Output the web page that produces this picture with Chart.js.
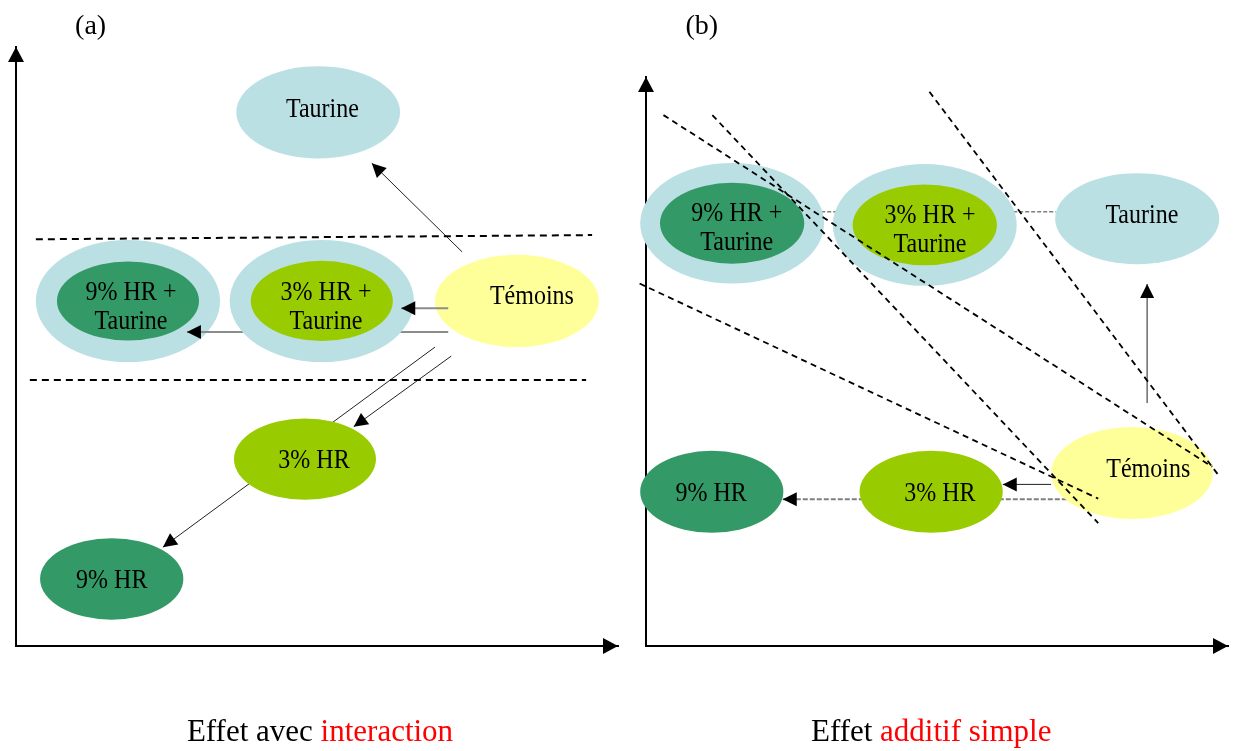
<!DOCTYPE html>
<html>
<head>
<meta charset="utf-8">
<script src="https://cdn.jsdelivr.net/npm/chart.js@4.4.1/dist/chart.umd.min.js"></script>
<style>
  body { margin: 0; background: #fff; }
  #wrap { position: relative; width: 1234px; height: 751px; }
  .panel { position: absolute; top: 0; height: 751px; }
  #panelA { left: 0; width: 624px; }
  #panelB { left: 624px; width: 610px; }
</style>
</head>
<body>
<div id="wrap">
  <div class="panel" id="panelA"><canvas id="chartA"></canvas></div>
  <div class="panel" id="panelB"><canvas id="chartB"></canvas></div>
</div>
<script>
// both panels use a 0..100 unit scale on each axis

// ---- (a) effet avec interaction ----
var aNodeLabels = ['Taurine', '9% HR +\nTaurine', '3% HR +\nTaurine', 'Témoins', '3% HR', '9% HR'];
var aNodeKind   = ['taurine', 'hr9', 'hr3', 'temoin', 'hr3', 'hr9'];
var aNodeX  = [50.2, 18.6, 50.8, 83.2, 48.0, 15.9];
var aNodeY  = [89.1, 57.6, 57.6, 57.6, 31.2, 11.2];
var aNodeRx = [13.6, 11.8, 11.8, 13.6, 11.8, 11.9];
var aNodeRy = [7.7, 6.6, 6.7, 7.7, 6.8, 6.8];
var aRingRx = [0, 15.3, 15.3, 0, 0, 0];
var aRingRy = [0, 10.2, 10.2, 0, 0, 0];
var aTextX  = [50.9, 19.1, 51.5, 85.7, 49.5, 15.9];
var aTextY  = [89.5, 56.6, 56.6, 58.3, 30.9, 10.9];

var aArrowX0 = [74.1, 71.8, 71.8, 72.3, 69.6];
var aArrowY0 = [65.8, 56.4, 52.4, 48.4, 49.9];
var aArrowX1 = [59.1, 64.0, 28.4, 56.1, 24.4];
var aArrowY1 = [80.6, 56.4, 52.4, 36.6, 16.5];
var aArrowKind = ['thin', 'grey', 'grey', 'thin', 'thin'];

var aDashX0 = [3.3, 2.3];
var aDashY0 = [67.9, 44.4];
var aDashX1 = [95.7, 94.7];
var aDashY1 = [68.6, 44.4];

var aTag = '(a)';
var aCaption = ['Effet avec ', 'interaction'];

// ---- (b) effet additif simple ----
var bNodeLabels = ['9% HR +\nTaurine', '3% HR +\nTaurine', 'Taurine', 'Témoins', '3% HR', '9% HR'];
var bNodeKind   = ['hr9', 'hr3', 'taurine', 'temoin', 'hr3', 'hr9'];
var bNodeX  = [14.8, 47.9, 84.4, 83.5, 49.0, 11.3];
var bNodeY  = [74.3, 74.0, 75.1, 30.4, 27.1, 27.1];
var bNodeRx = [12.4, 12.4, 14.1, 13.9, 12.3, 12.3];
var bNodeRy = [7.1, 7.1, 8.0, 8.1, 7.2, 7.2];
var bRingRx = [15.8, 15.8, 0, 0, 0, 0];
var bRingRy = [10.6, 10.7, 0, 0, 0, 0];
var bTextX  = [15.6, 48.8, 85.2, 86.3, 50.5, 11.2];
var bTextY  = [73.3, 73.0, 75.6, 30.9, 26.7, 26.7];

var bArrowX0 = [30.1, 86.1, 69.6, 72.3];
var bArrowY0 = [76.3, 42.7, 28.4, 25.8];
var bArrowX1 = [70.4, 86.1, 61.3, 23.5];
var bArrowY1 = [76.3, 63.6, 28.4, 25.8];
var bArrowKind = ['link', 'thin', 'thin', 'greyDash'];

var bDashX0 = [3.0, 11.4, 48.7, -1.1];
var bDashY0 = [93.3, 93.3, 97.4, 63.7];
var bDashX1 = [97.3, 77.7, 98.6, 77.7];
var bDashY1 = [31.5, 21.6, 29.7, 25.9];

var bTag = '(b)';
var bCaption = ['Effet ', 'additif simple'];

// ---- styles ----
var FONT = '"Liberation Serif", "Times New Roman", serif';
var nodeColors = { taurine: '#bbe0e3', hr9: '#339966', hr3: '#99cc00', temoin: '#ffff99' };
var arrowStyles = {
  thin:     { color: '#222222', width: 1,   dash: [],     head: true,  layer: 4 },
  grey:     { color: '#8c8c8c', width: 2,   dash: [],     head: true,  layer: 4 },
  greyDash: { color: '#7f7f7f', width: 2,   dash: [5, 2], head: true,  layer: 1 },
  link:     { color: '#7f7f7f', width: 1.5, dash: [4, 2], head: false, layer: 1 }
};

function drawHead(ctx, x0, y0, x1, y1, len, half) {
  var a = Math.atan2(y1 - y0, x1 - x0);
  ctx.save();
  ctx.translate(x1, y1);
  ctx.rotate(a);
  ctx.beginPath();
  ctx.moveTo(0, 0);
  ctx.lineTo(-len, -half);
  ctx.lineTo(-len, half);
  ctx.closePath();
  ctx.fillStyle = '#000';
  ctx.fill();
  ctx.restore();
}

var diagramPlugin = {
  id: 'diagram',
  afterDatasetDraw: function (chart, args) {
    var ds = chart.data.datasets[args.index];
    var ctx = chart.ctx, xs = chart.scales.x, ys = chart.scales.y;
    if (ds.node) {
      var n = ds.node;
      var cx = xs.getPixelForValue(n.x), cy = ys.getPixelForValue(n.y);
      var w = function (v) { return Math.abs(xs.getPixelForValue(n.x + v) - cx); };
      var h = function (v) { return Math.abs(ys.getPixelForValue(n.y + v) - cy); };
      ctx.save();
      if (n.ringRx) {
        ctx.fillStyle = nodeColors.taurine;
        ctx.beginPath();
        ctx.ellipse(cx, cy, w(n.ringRx), h(n.ringRy), 0, 0, Math.PI * 2);
        ctx.fill();
      }
      ctx.fillStyle = nodeColors[n.kind];
      ctx.beginPath();
      ctx.ellipse(cx, cy, w(n.rx), h(n.ry), 0, 0, Math.PI * 2);
      ctx.fill();
      // the labels in the source are a little taller than they are wide
      ctx.fillStyle = '#000';
      ctx.font = '24px ' + FONT;
      ctx.textAlign = 'center';
      ctx.textBaseline = 'middle';
      var lines = n.label.split('\n');
      var tx = xs.getPixelForValue(n.tx), ty = ys.getPixelForValue(n.ty);
      for (var i = 0; i < lines.length; i++) {
        var ly = ty + (i - (lines.length - 1) / 2) * 29;
        ctx.save();
        ctx.translate(tx, ly);
        ctx.scale(1, 1.12);
        ctx.fillText(lines[i], 0, 0);
        ctx.restore();
      }
      ctx.restore();
    }
    if (ds.head) {
      var p = args.meta.data;
      drawHead(ctx, p[0].x, p[0].y, p[1].x, p[1].y, 14, 7);
    }
  },
  afterDraw: function (chart, args, opts) {
    var ctx = chart.ctx, xs = chart.scales.x, ys = chart.scales.y;
    var area = chart.chartArea;
    // arrow tips of the axes
    drawHead(ctx, area.left, area.top + 20, area.left, area.top, 15, 8);
    drawHead(ctx, area.right - 20, area.bottom, area.right, area.bottom, 15, 8);

    ctx.save();
    ctx.fillStyle = '#000';
    ctx.font = '28px ' + FONT;
    ctx.textAlign = 'center';
    ctx.textBaseline = 'middle';
    ctx.fillText(opts.tag, xs.getPixelForValue(opts.tagX), ys.getPixelForValue(opts.tagY));

    ctx.font = '31px ' + FONT;
    ctx.textAlign = 'left';
    var parts = opts.caption, colors = ['#000000', '#ff0000'];
    var total = 0;
    for (var i = 0; i < parts.length; i++) total += ctx.measureText(parts[i]).width;
    var x = xs.getPixelForValue(opts.captionX) - total / 2;
    var y = ys.getPixelForValue(opts.captionY);
    for (var j = 0; j < parts.length; j++) {
      ctx.fillStyle = colors[j];
      ctx.fillText(parts[j], x, y);
      x += ctx.measureText(parts[j]).width;
    }
    ctx.restore();
  }
};

function buildChart(canvasId, p) {
  var datasets = [];
  for (var i = 0; i < p.labels.length; i++) {
    datasets.push({
      data: [{ x: p.nx[i], y: p.ny[i] }],
      pointRadius: 0,
      order: 10 - p.nodeLayer[i],
      clip: false,
      node: {
        label: p.labels[i], kind: p.kinds[i],
        x: p.nx[i], y: p.ny[i], rx: p.rx[i], ry: p.ry[i],
        ringRx: p.ringRx[i], ringRy: p.ringRy[i],
        tx: p.tx[i], ty: p.ty[i]
      }
    });
  }
  for (var k = 0; k < p.ax0.length; k++) {
    var st = arrowStyles[p.akind[k]];
    datasets.push({
      data: [{ x: p.ax0[k], y: p.ay0[k] }, { x: p.ax1[k], y: p.ay1[k] }],
      showLine: true,
      pointRadius: 0,
      borderColor: st.color,
      borderWidth: st.width,
      borderDash: st.dash,
      fill: false,
      clip: false,
      order: 10 - (p.arrowLayer ? p.arrowLayer[k] : st.layer),
      head: st.head
    });
  }
  for (var d = 0; d < p.dx0.length; d++) {
    datasets.push({
      data: [{ x: p.dx0[d], y: p.dy0[d] }, { x: p.dx1[d], y: p.dy1[d] }],
      showLine: true,
      pointRadius: 0,
      borderColor: '#000',
      borderWidth: p.dashWidth,
      borderDash: p.dash,
      fill: false,
      clip: false,
      order: 0
    });
  }
  var axis = {
    type: 'linear', min: 0, max: 100,
    grid: { display: false, drawTicks: false },
    ticks: { display: false },
    border: { display: true, color: '#000', width: 2 },
    z: 1
  };
  return new Chart(document.getElementById(canvasId), {
    type: 'scatter',
    data: { datasets: datasets },
    options: {
      responsive: true,
      maintainAspectRatio: false,
      animation: false,
      events: [],
      layout: { padding: p.padding },
      scales: { x: axis, y: Object.assign({}, axis) },
      plugins: {
        legend: { display: false },
        tooltip: { enabled: false },
        diagram: {
          tag: p.tag, tagX: p.tagX, tagY: p.tagY,
          caption: p.caption, captionX: p.captionX, captionY: p.captionY
        }
      }
    },
    plugins: [diagramPlugin]
  });
}

buildChart('chartA', {
  labels: aNodeLabels, kinds: aNodeKind, nx: aNodeX, ny: aNodeY, rx: aNodeRx, ry: aNodeRy,
  ringRx: aRingRx, ringRy: aRingRy, tx: aTextX, ty: aTextY,
  nodeLayer: [3, 1, 3, 3, 3, 3],
  ax0: aArrowX0, ay0: aArrowY0, ax1: aArrowX1, ay1: aArrowY1, akind: aArrowKind,
  arrowLayer: [4, 4, 2, 4, 2],
  dx0: aDashX0, dy0: aDashY0, dx1: aDashX1, dy1: aDashY1, dash: [7, 5], dashWidth: 2,
  tag: aTag, tagX: 12.4, tagY: 103.4,
  caption: aCaption, captionX: 50.5, captionY: -14.5,
  padding: { left: 16, top: 47, right: 6, bottom: 105 }
});

buildChart('chartB', {
  labels: bNodeLabels, kinds: bNodeKind, nx: bNodeX, ny: bNodeY, rx: bNodeRx, ry: bNodeRy,
  ringRx: bRingRx, ringRy: bRingRy, tx: bTextX, ty: bTextY,
  nodeLayer: [3, 3, 3, 3, 3, 3],
  ax0: bArrowX0, ay0: bArrowY0, ax1: bArrowX1, ay1: bArrowY1, akind: bArrowKind,
  arrowLayer: null,
  dx0: bDashX0, dy0: bDashY0, dx1: bDashX1, dy1: bDashY1, dash: [6, 4.5], dashWidth: 1.8,
  tag: bTag, tagX: 9.6, tagY: 108.9,
  caption: bCaption, captionX: 49.0, captionY: -15.3,
  padding: { left: 22, top: 77, right: 6, bottom: 105 }
});
</script>
</body>
</html>
